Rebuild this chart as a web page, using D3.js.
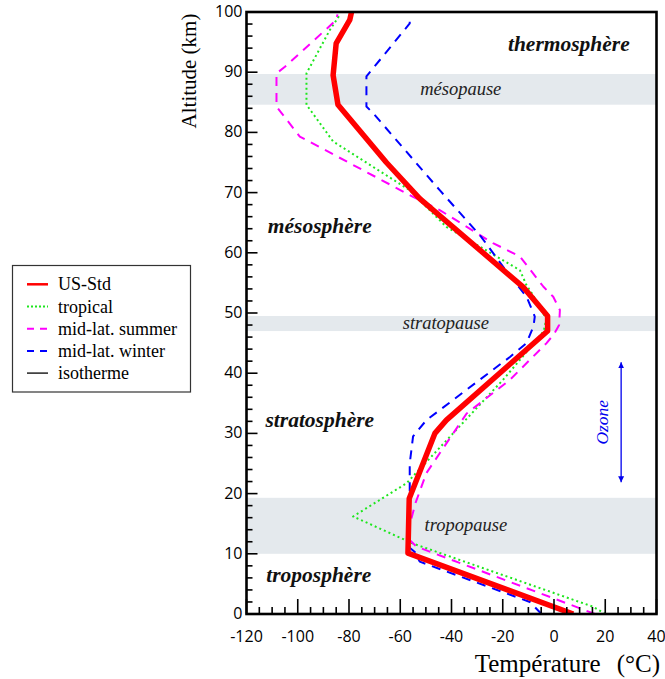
<!DOCTYPE html>
<html>
<head>
<meta charset="utf-8">
<script src="https://cdn.jsdelivr.net/npm/d3@7"></script>
<style>
  html, body { margin: 0; padding: 0; background: #fff; }
  svg { display: block; }
</style>
</head>
<body>
<svg id="chart" width="665" height="679"></svg>
<script>
// Temperature profiles: [altitude km, temperature °C]
const usStd = [[0,7.5],[10.1,-57],[19.2,-56.5],[30,-46.5],[32.2,-42],[47,-2.5],[49.5,-2.5],[54.3,-12],[69,-52.4],[75,-65.4],[84.6,-84.3],[89.5,-86.2],[94.8,-85],[98.7,-79.7],[100,-79]];
const tropical = [[0,20],[1.2,15.3],[11.7,-55],[16.2,-78.4],[21.7,-57.6],[30,-39.4],[38.9,-19.9],[42.2,-13.3],[47,-4],[49,-3],[53,-8.2],[54.6,-10.7],[57.1,-13.3],[64.3,-42],[70.4,-56.3],[78.5,-86.2],[84.6,-96.6],[89.8,-96.6],[97,-87.5],[99.5,-83.6]];
const midLatSummer = [[0,16],[11.2,-53.7],[12.8,-57.6],[18.5,-54],[23.4,-49.8],[26.7,-44.6],[33.3,-34.1],[38.9,-17.2],[45,-2.9],[46.5,0],[48,2],[50.5,2.3],[52.7,-0.3],[54.4,-4.2],[59.4,-13.3],[61.6,-23.8],[67.1,-44.6],[69.3,-55],[79.3,-99.2],[84.3,-108.3],[89.8,-108.3],[90.9,-105],[98.7,-84.9],[99.6,-84.5]];
const midLatWinter = [[0,-4.9],[2,-9.4],[8.7,-52.4],[10.3,-54.3],[11,-56.3],[25,-56.3],[29.5,-55],[32.2,-49.8],[42.7,-17.2],[45,-10.7],[47.8,-8],[49.4,-7.5],[52.7,-10.7],[56.9,-18.5],[62.7,-28.5],[70.4,-44.6],[83.2,-70.6],[84.3,-73.2],[89.3,-73.2],[98.1,-56.3],[99.4,-56.3]];

const seriesNames = ["US-Std", "tropical", "mid-lat. summer", "mid-lat. winter", "isotherme"];
const seriesData = [usStd, tropical, midLatSummer, midLatWinter, []];

// Shaded layers: [bottom km, top km, label]
const pauseBands = [[84.6, 89.7, "mésopause"], [47, 49.5, "stratopause"], [10, 19.3, "tropopause"]];
// Region names: [altitude km, temperature °C, label]
const regionLabels = [[93.6, 5.8, "thermosphère"], [63.3, -91.4, "mésosphère"], [31.1, -91.4, "stratosphère"], [5.3, -91.8, "troposphère"]];
const bandLabelPos = [-36.4, -42.2, -34.4];

const xTicks = [-120, -100, -80, -60, -40, -20, 0, 20, 40];
const yTicks = [0, 10, 20, 30, 40, 50, 60, 70, 80, 90, 100];
const ozoneRange = [41.8, 21.9];
const ozoneX = 26.2;

const styles = [
  { color: "#ff0000", width: 5.5, dash: null },
  { color: "#1ee61e", width: 2, dash: "2,3" },
  { color: "#ff00ff", width: 2, dash: "9,7" },
  { color: "#0000ff", width: 2, dash: "9,7" },
  { color: "#222", width: 1.5, dash: null }
];

const svg = d3.select("#chart");
const plot = { left: 246.5, right: 656.5, top: 12, bottom: 614 };
const x = d3.scaleLinear().domain([-120, 40]).range([plot.left, plot.right]);
const y = d3.scaleLinear().domain([0, 100]).range([plot.bottom, plot.top]);
const serif = "'Liberation Serif', 'Times New Roman', serif";
const sans = "'Open Sans', 'DejaVu Sans', sans-serif";

const defs = svg.append("defs");
defs.append("clipPath").attr("id", "plotClip")
  .append("rect").attr("x", plot.left).attr("y", plot.top)
  .attr("width", plot.right - plot.left).attr("height", plot.bottom - plot.top);

// pause bands
svg.append("g").selectAll("rect").data(pauseBands).join("rect")
  .attr("x", plot.left).attr("width", plot.right - plot.left)
  .attr("y", d => y(d[1])).attr("height", d => y(d[0]) - y(d[1]))
  .attr("fill", "#e4e9ed");

svg.append("g").selectAll("text").data(pauseBands).join("text")
  .attr("x", (d, i) => x(bandLabelPos[i]))
  .attr("y", d => (y(d[0]) + y(d[1])) / 2 + 5.5)
  .attr("text-anchor", "middle")
  .attr("font-family", serif).attr("font-style", "italic").attr("font-size", 18.5)
  .attr("fill", "#222")
  .text(d => d[2]);

svg.append("g").selectAll("text").data(regionLabels).join("text")
  .attr("x", d => x(d[1])).attr("y", d => y(d[0]))
  .attr("text-anchor", "middle")
  .attr("font-family", serif).attr("font-style", "italic").attr("font-weight", "bold")
  .attr("font-size", 21.5).attr("fill", "#111")
  .text(d => d[2]);

// profiles
const line = d3.line().x(d => x(d[1])).y(d => y(d[0]));
const order = [1, 2, 3, 0];
svg.append("g").attr("clip-path", "url(#plotClip)")
  .selectAll("path").data(order).join("path")
  .attr("d", i => line(seriesData[i]))
  .attr("fill", "none")
  .attr("stroke", i => styles[i].color)
  .attr("stroke-width", i => styles[i].width)
  .attr("stroke-dasharray", i => styles[i].dash)
  .attr("stroke-linejoin", "round");

// ozone arrow
defs.append("marker").attr("id", "arrowHead").attr("viewBox", "0 0 10 10")
  .attr("refX", 10).attr("refY", 5).attr("markerWidth", 6).attr("markerHeight", 8)
  .attr("orient", "auto-start-reverse").attr("markerUnits", "userSpaceOnUse")
  .append("path").attr("d", "M0,0 L10,5 L0,10 Z").attr("fill", "#0000ee");
svg.append("line")
  .attr("x1", x(ozoneX)).attr("x2", x(ozoneX))
  .attr("y1", y(ozoneRange[0])).attr("y2", y(ozoneRange[1]))
  .attr("stroke", "#0000ee").attr("stroke-width", 1.3)
  .attr("marker-start", "url(#arrowHead)").attr("marker-end", "url(#arrowHead)");
svg.append("text")
  .attr("transform", `translate(${x(ozoneX) - 13},${y((ozoneRange[0] + ozoneRange[1]) / 2)}) rotate(-90)`)
  .attr("text-anchor", "middle")
  .attr("font-family", serif).attr("font-style", "italic").attr("font-size", 17.5)
  .attr("fill", "#0000ee").text("Ozone");

// ticks drawn inward from the bottom and left edges
svg.append("g").selectAll("line").data(d3.range(-120, 41, 5)).join("line")
  .attr("x1", d => x(d)).attr("x2", d => x(d))
  .attr("y1", plot.bottom).attr("y2", d => plot.bottom - (d % 20 === 0 ? 15 : 7))
  .attr("stroke", "#000").attr("stroke-width", 1.6);
svg.append("g").selectAll("line").data(d3.range(0, 101, 2)).join("line")
  .attr("y1", d => y(d)).attr("y2", d => y(d))
  .attr("x1", plot.left).attr("x2", d => plot.left + (d % 10 === 0 ? 11 : 6))
  .attr("stroke", "#000").attr("stroke-width", 1.6);

svg.append("g").selectAll("text").data(xTicks).join("text")
  .attr("x", d => x(d)).attr("y", 641.5)
  .attr("text-anchor", "middle").attr("font-family", sans).attr("font-size", 16)
  .attr("fill", "#000").text(d => d);
svg.append("g").selectAll("text").data(yTicks).join("text")
  .attr("x", plot.left - 4).attr("y", d => y(d) + 5)
  .attr("text-anchor", "end").attr("font-family", sans).attr("font-size", 16)
  .attr("fill", "#000").text(d => d);

// frame
svg.append("rect").attr("x", plot.left).attr("y", plot.top)
  .attr("width", plot.right - plot.left).attr("height", plot.bottom - plot.top)
  .attr("fill", "none").attr("stroke", "#000").attr("stroke-width", 2.6);

// axis titles
const xTitle = svg.append("text").attr("x", 660).attr("y", 672).attr("text-anchor", "end")
  .attr("font-family", serif).attr("font-size", 25).attr("fill", "#000");
xTitle.append("tspan").text("Température");
xTitle.append("tspan").attr("dx", 16).text("(°C)");
svg.append("text").attr("transform", "translate(196,71) rotate(-90)")
  .attr("text-anchor", "middle").attr("font-family", serif).attr("font-size", 21)
  .attr("fill", "#000").text("Altitude (km)");

// legend
const lg = svg.append("g");
lg.append("rect").attr("x", 12.5).attr("y", 265.5).attr("width", 178).attr("height", 126.5)
  .attr("fill", "#fff").attr("stroke", "#333").attr("stroke-width", 1.2);
const items = lg.selectAll("g").data(seriesNames).join("g")
  .attr("transform", (d, i) => `translate(0,${284.3 + i * 22.2})`);
items.append("line").attr("x1", 27).attr("x2", 48).attr("y1", 0).attr("y2", 0)
  .attr("stroke", (d, i) => styles[i].color)
  .attr("stroke-width", (d, i) => i === 0 ? 2.5 : (i === 4 ? 1.5 : 2))
  .attr("stroke-dasharray", (d, i) => i === 1 ? "2,2" : (i === 2 || i === 3 ? "7,6" : null));
items.append("text").attr("x", 58).attr("y", 6)
  .attr("font-family", serif).attr("font-size", 18).attr("fill", "#000").text(d => d);
</script>
</body>
</html>
